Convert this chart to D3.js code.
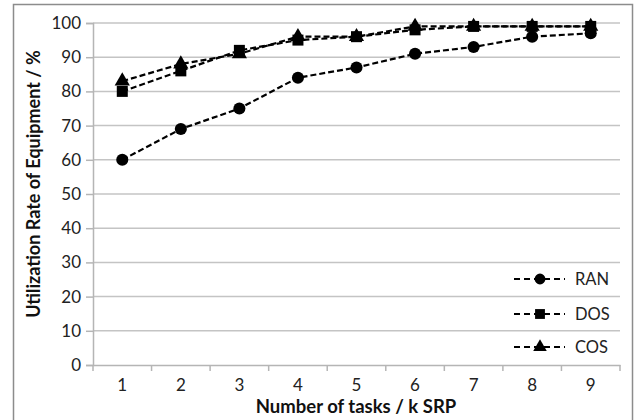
<!DOCTYPE html>
<html>
<head>
<meta charset="utf-8">
<script src="https://cdn.jsdelivr.net/npm/d3@7"></script>
<style>
  html, body { margin: 0; padding: 0; background: #fff; }
  svg { display: block; font-family: Lato, "Open Sans", sans-serif; }
</style>
</head>
<body>
<svg id="chart" width="639" height="420"></svg>
<script>
// Number of tasks (k SRP)
const categories = [1, 2, 3, 4, 5, 6, 7, 8, 9];
// Utilization rate of equipment (%) per scheduling strategy
const ranValues = [60, 69, 75, 84, 87, 91, 93, 96, 97];
const dosValues = [80, 86, 92, 95, 96, 98, 99, 99, 99];
const cosValues = [83, 88, 91, 96, 96, 99, 99, 99, 99];
const seriesNames = ["RAN", "DOS", "COS"];
const yTicks = [0, 10, 20, 30, 40, 50, 60, 70, 80, 90, 100];

const series = [
  { name: seriesNames[0], values: ranValues, symbol: d3.symbolCircle, size: 115 },
  { name: seriesNames[1], values: dosValues, symbol: d3.symbolSquare, size: 121 },
  { name: seriesNames[2], values: cosValues, symbol: d3.symbolTriangle, size: 100 }
];

const svg = d3.select("#chart");
const margin = { left: 93, right: 620, top: 23, bottom: 365 };
const FONT = "Lato, 'Open Sans', sans-serif";

// outer frame
svg.append("rect")
  .attr("x", 13.5).attr("y", 4.5)
  .attr("width", 619).attr("height", 420)
  .attr("fill", "#fff").attr("stroke", "#8c8c8c").attr("stroke-width", 1.5);

const x = d3.scaleBand().domain(categories).range([margin.left, margin.right]);
const y = d3.scaleLinear().domain([0, 100]).range([margin.bottom, margin.top]);

// horizontal gridlines
svg.append("g").selectAll("line")
  .data(yTicks.slice(1))
  .join("line")
  .attr("x1", margin.left).attr("x2", margin.right)
  .attr("y1", d => y(d)).attr("y2", d => y(d))
  .attr("stroke", "#c4c4c4").attr("stroke-width", 1.5);

// y axis
const yAxis = svg.append("g")
  .attr("transform", `translate(${margin.left},0)`)
  .call(d3.axisLeft(y).tickValues(yTicks).tickSize(7).tickPadding(5));
yAxis.select(".domain").attr("stroke", "#b5b5b5").attr("stroke-width", 1.5);
yAxis.selectAll(".tick line").attr("stroke", "#b5b5b5").attr("stroke-width", 1.5);
yAxis.selectAll("text").attr("font-size", 17).attr("fill", "#222")
  .attr("font-family", FONT);

// x axis
const xAxis = svg.append("g")
  .attr("transform", `translate(0,${margin.bottom})`)
  .call(d3.axisBottom(x).tickSize(0).tickPadding(14));
xAxis.select(".domain").attr("stroke", "#b5b5b5").attr("stroke-width", 1.5);
xAxis.selectAll("text").attr("font-size", 17).attr("fill", "#222")
  .attr("font-family", FONT);

// tick marks sit on the band boundaries
const bounds = categories.map(c => x(c)).concat([x(categories[categories.length - 1]) + x.bandwidth()]);
svg.append("g").selectAll("line")
  .data(bounds)
  .join("line")
  .attr("x1", d => d).attr("x2", d => d)
  .attr("y1", margin.bottom).attr("y2", margin.bottom + 6)
  .attr("stroke", "#b5b5b5").attr("stroke-width", 1.5);

// series lines and markers
const line = d3.line()
  .x((d, i) => x(categories[i]) + x.bandwidth() / 2)
  .y(d => y(d));

series.forEach(s => {
  svg.append("path")
    .attr("d", line(s.values))
    .attr("fill", "none").attr("stroke", "#000")
    .attr("stroke-width", 2.2).attr("stroke-dasharray", "6,3");
});
series.forEach(s => {
  svg.append("g").selectAll("path")
    .data(s.values)
    .join("path")
    .attr("transform", (d, i) => `translate(${x(categories[i]) + x.bandwidth() / 2},${y(d)})`)
    .attr("d", d3.symbol().type(s.symbol).size(s.size))
    .attr("fill", "#000");
});

// legend
const legendY = [279, 314, 347];
const legend = svg.append("g");
series.forEach((s, i) => {
  const g = legend.append("g").attr("transform", `translate(0,${legendY[i]})`);
  g.append("line")
    .attr("x1", 514).attr("x2", 565).attr("y1", 0).attr("y2", 0)
    .attr("stroke", "#000").attr("stroke-width", 2.2).attr("stroke-dasharray", "6,4");
  g.append("path")
    .attr("transform", "translate(540,0)")
    .attr("d", d3.symbol().type(s.symbol).size(s.size * 0.8))
    .attr("fill", "#000");
  g.append("text")
    .attr("x", 575).attr("y", 0).attr("dy", "0.36em")
    .attr("font-size", 16.5).attr("fill", "#222")
    .text(s.name);
});

// axis titles
svg.append("text")
  .attr("x", 356).attr("y", 413)
  .attr("text-anchor", "middle")
  .attr("font-size", 18.5).attr("font-weight", "bold").attr("fill", "#111")
  .text("Number of tasks / k SRP");

svg.append("text")
  .attr("transform", "translate(40,184) rotate(-90)")
  .attr("text-anchor", "middle")
  .attr("font-size", 18).attr("font-weight", "bold").attr("fill", "#111")
  .text("Utilization Rate of Equipment / %");
</script>
</body>
</html>
